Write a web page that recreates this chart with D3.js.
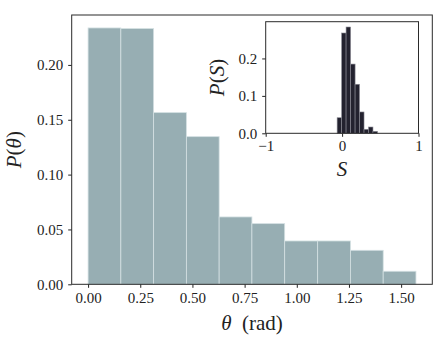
<!DOCTYPE html>
<html>
<head>
<meta charset="utf-8">
<script src="https://cdn.jsdelivr.net/npm/d3@7"></script>
<style>
  body { margin: 0; background: #fff; }
  svg { display: block; font-family: "Liberation Serif", "DejaVu Serif", serif; }
  .tick text { font-size: 15px; fill: #222; font-family: "Liberation Serif", "DejaVu Serif", serif; }
  .tick line { stroke: #222; }
  .domain { display: none; }
</style>
</head>
<body>
<div id="chart-area"></div>
<script>
// main histogram: theta bins (rad) and probability
var thetaEdges = [0, 0.157, 0.314, 0.471, 0.628, 0.785, 0.942, 1.100, 1.257, 1.414, 1.571];
var pTheta = [0.2337, 0.2331, 0.1565, 0.1346, 0.0614, 0.0553, 0.0395, 0.0395, 0.0310, 0.0119];
var thetaTicks = [0, 0.25, 0.5, 0.75, 1.0, 1.25, 1.5];
var pThetaTicks = [0, 0.05, 0.10, 0.15, 0.20];

// inset histogram: S bins and probability
var sEdges = [-0.065, -0.006, 0.052, 0.111, 0.170, 0.228, 0.287, 0.346, 0.404, 0.463];
var pS = [0.0416, 0.268, 0.284, 0.185, 0.131, 0.057, 0.0107, 0.0168, 0.0053];
var sTicks = [-1, 0, 1];
var pSTicks = [0, 0.1, 0.2];

var W = 447, H = 343;
var main = { left: 71.7, right: 432.3, top: 15, bottom: 284.3 };
var inset = { left: 265.7, right: 418.5, top: 21.7, bottom: 133.3 };

var svg = d3.select("#chart-area")
    .append("svg")
        .attr("width", W)
        .attr("height", H);

// ---- main axes ----
var x = d3.scaleLinear()
    .domain([-0.0785, 1.6493])
    .range([main.left, main.right]);
var y = d3.scaleLinear()
    .domain([0, 0.2455])
    .range([main.bottom, main.top]);

var mainBins = pTheta.map(function(p, i) {
    return { x0: thetaEdges[i], x1: thetaEdges[i + 1], p: p };
});

svg.append("g").selectAll("rect")
    .data(mainBins)
    .enter().append("rect")
        .attr("x", function(d) { return x(d.x0); })
        .attr("width", function(d) { return x(d.x1) - x(d.x0); })
        .attr("y", function(d) { return y(d.p); })
        .attr("height", function(d) { return y(0) - y(d.p); })
        .attr("fill", "#97aeb3")
        .attr("stroke", "#d4e0e2")
        .attr("stroke-width", 0.8);

svg.append("g")
    .attr("transform", "translate(0," + main.bottom + ")")
    .call(d3.axisBottom(x).tickValues(thetaTicks).tickSize(3.5).tickPadding(5)
        .tickFormat(d3.format(".2f")));

svg.append("g")
    .attr("transform", "translate(" + main.left + ",0)")
    .call(d3.axisLeft(y).tickValues(pThetaTicks).tickSize(3.5).tickPadding(5)
        .tickFormat(d3.format(".2f")));

svg.append("rect")
    .attr("x", main.left).attr("y", main.top)
    .attr("width", main.right - main.left)
    .attr("height", main.bottom - main.top)
    .attr("fill", "none")
    .attr("stroke", "#2a2a2a")
    .attr("stroke-width", 1);

// axis labels
var xl = svg.append("text")
    .attr("x", (main.left + main.right) / 2)
    .attr("y", 330)
    .attr("text-anchor", "middle")
    .attr("font-size", "21px")
    .attr("fill", "#222");
xl.append("tspan").attr("font-style", "italic").text("θ");
xl.append("tspan").text("\u2002(rad)");

var yl = svg.append("text")
    .attr("transform", "translate(21," + ((main.top + main.bottom) / 2) + ") rotate(-90)")
    .attr("text-anchor", "middle")
    .attr("font-size", "21px")
    .attr("fill", "#222");
yl.append("tspan").attr("font-style", "italic").text("P");
yl.append("tspan").text("(");
yl.append("tspan").attr("font-style", "italic").text("θ");
yl.append("tspan").text(")");

// ---- inset axes ----
var xs = d3.scaleLinear()
    .domain([-1, 1])
    .range([inset.left, inset.right]);
var ys = d3.scaleLinear()
    .domain([0, 0.2982])
    .range([inset.bottom, inset.top]);

svg.append("rect")
    .attr("x", inset.left).attr("y", inset.top)
    .attr("width", inset.right - inset.left)
    .attr("height", inset.bottom - inset.top)
    .attr("fill", "#fff");

var insetBins = pS.map(function(p, i) {
    return { x0: sEdges[i], x1: sEdges[i + 1], p: p };
});

svg.append("g").selectAll("rect")
    .data(insetBins)
    .enter().append("rect")
        .attr("x", function(d) { return xs(d.x0); })
        .attr("width", function(d) { return xs(d.x1) - xs(d.x0); })
        .attr("y", function(d) { return ys(d.p); })
        .attr("height", function(d) { return ys(0) - ys(d.p); })
        .attr("fill", "#23222f")
        .attr("stroke", "#8a8a94")
        .attr("stroke-width", 0.6);

svg.append("g")
    .attr("transform", "translate(0," + inset.bottom + ")")
    .call(d3.axisBottom(xs).tickValues(sTicks).tickSize(3.5).tickPadding(4)
        .tickFormat(function(d) { return d < 0 ? "\u2212" + Math.abs(d) : d; }));

svg.append("g")
    .attr("transform", "translate(" + inset.left + ",0)")
    .call(d3.axisLeft(ys).tickValues(pSTicks).tickSize(3.5).tickPadding(5)
        .tickFormat(d3.format(".1f")));

svg.append("rect")
    .attr("x", inset.left).attr("y", inset.top)
    .attr("width", inset.right - inset.left)
    .attr("height", inset.bottom - inset.top)
    .attr("fill", "none")
    .attr("stroke", "#2a2a2a")
    .attr("stroke-width", 1);

svg.append("text")
    .attr("x", xs(0))
    .attr("y", 176)
    .attr("text-anchor", "middle")
    .attr("font-size", "21px")
    .attr("font-style", "italic")
    .attr("fill", "#222")
    .text("S");

var sl = svg.append("text")
    .attr("transform", "translate(224," + ((inset.top + inset.bottom) / 2) + ") rotate(-90)")
    .attr("text-anchor", "middle")
    .attr("font-size", "21px")
    .attr("fill", "#222");
sl.append("tspan").attr("font-style", "italic").text("P");
sl.append("tspan").text("(");
sl.append("tspan").attr("font-style", "italic").text("S");
sl.append("tspan").text(")");
</script>
</body>
</html>
